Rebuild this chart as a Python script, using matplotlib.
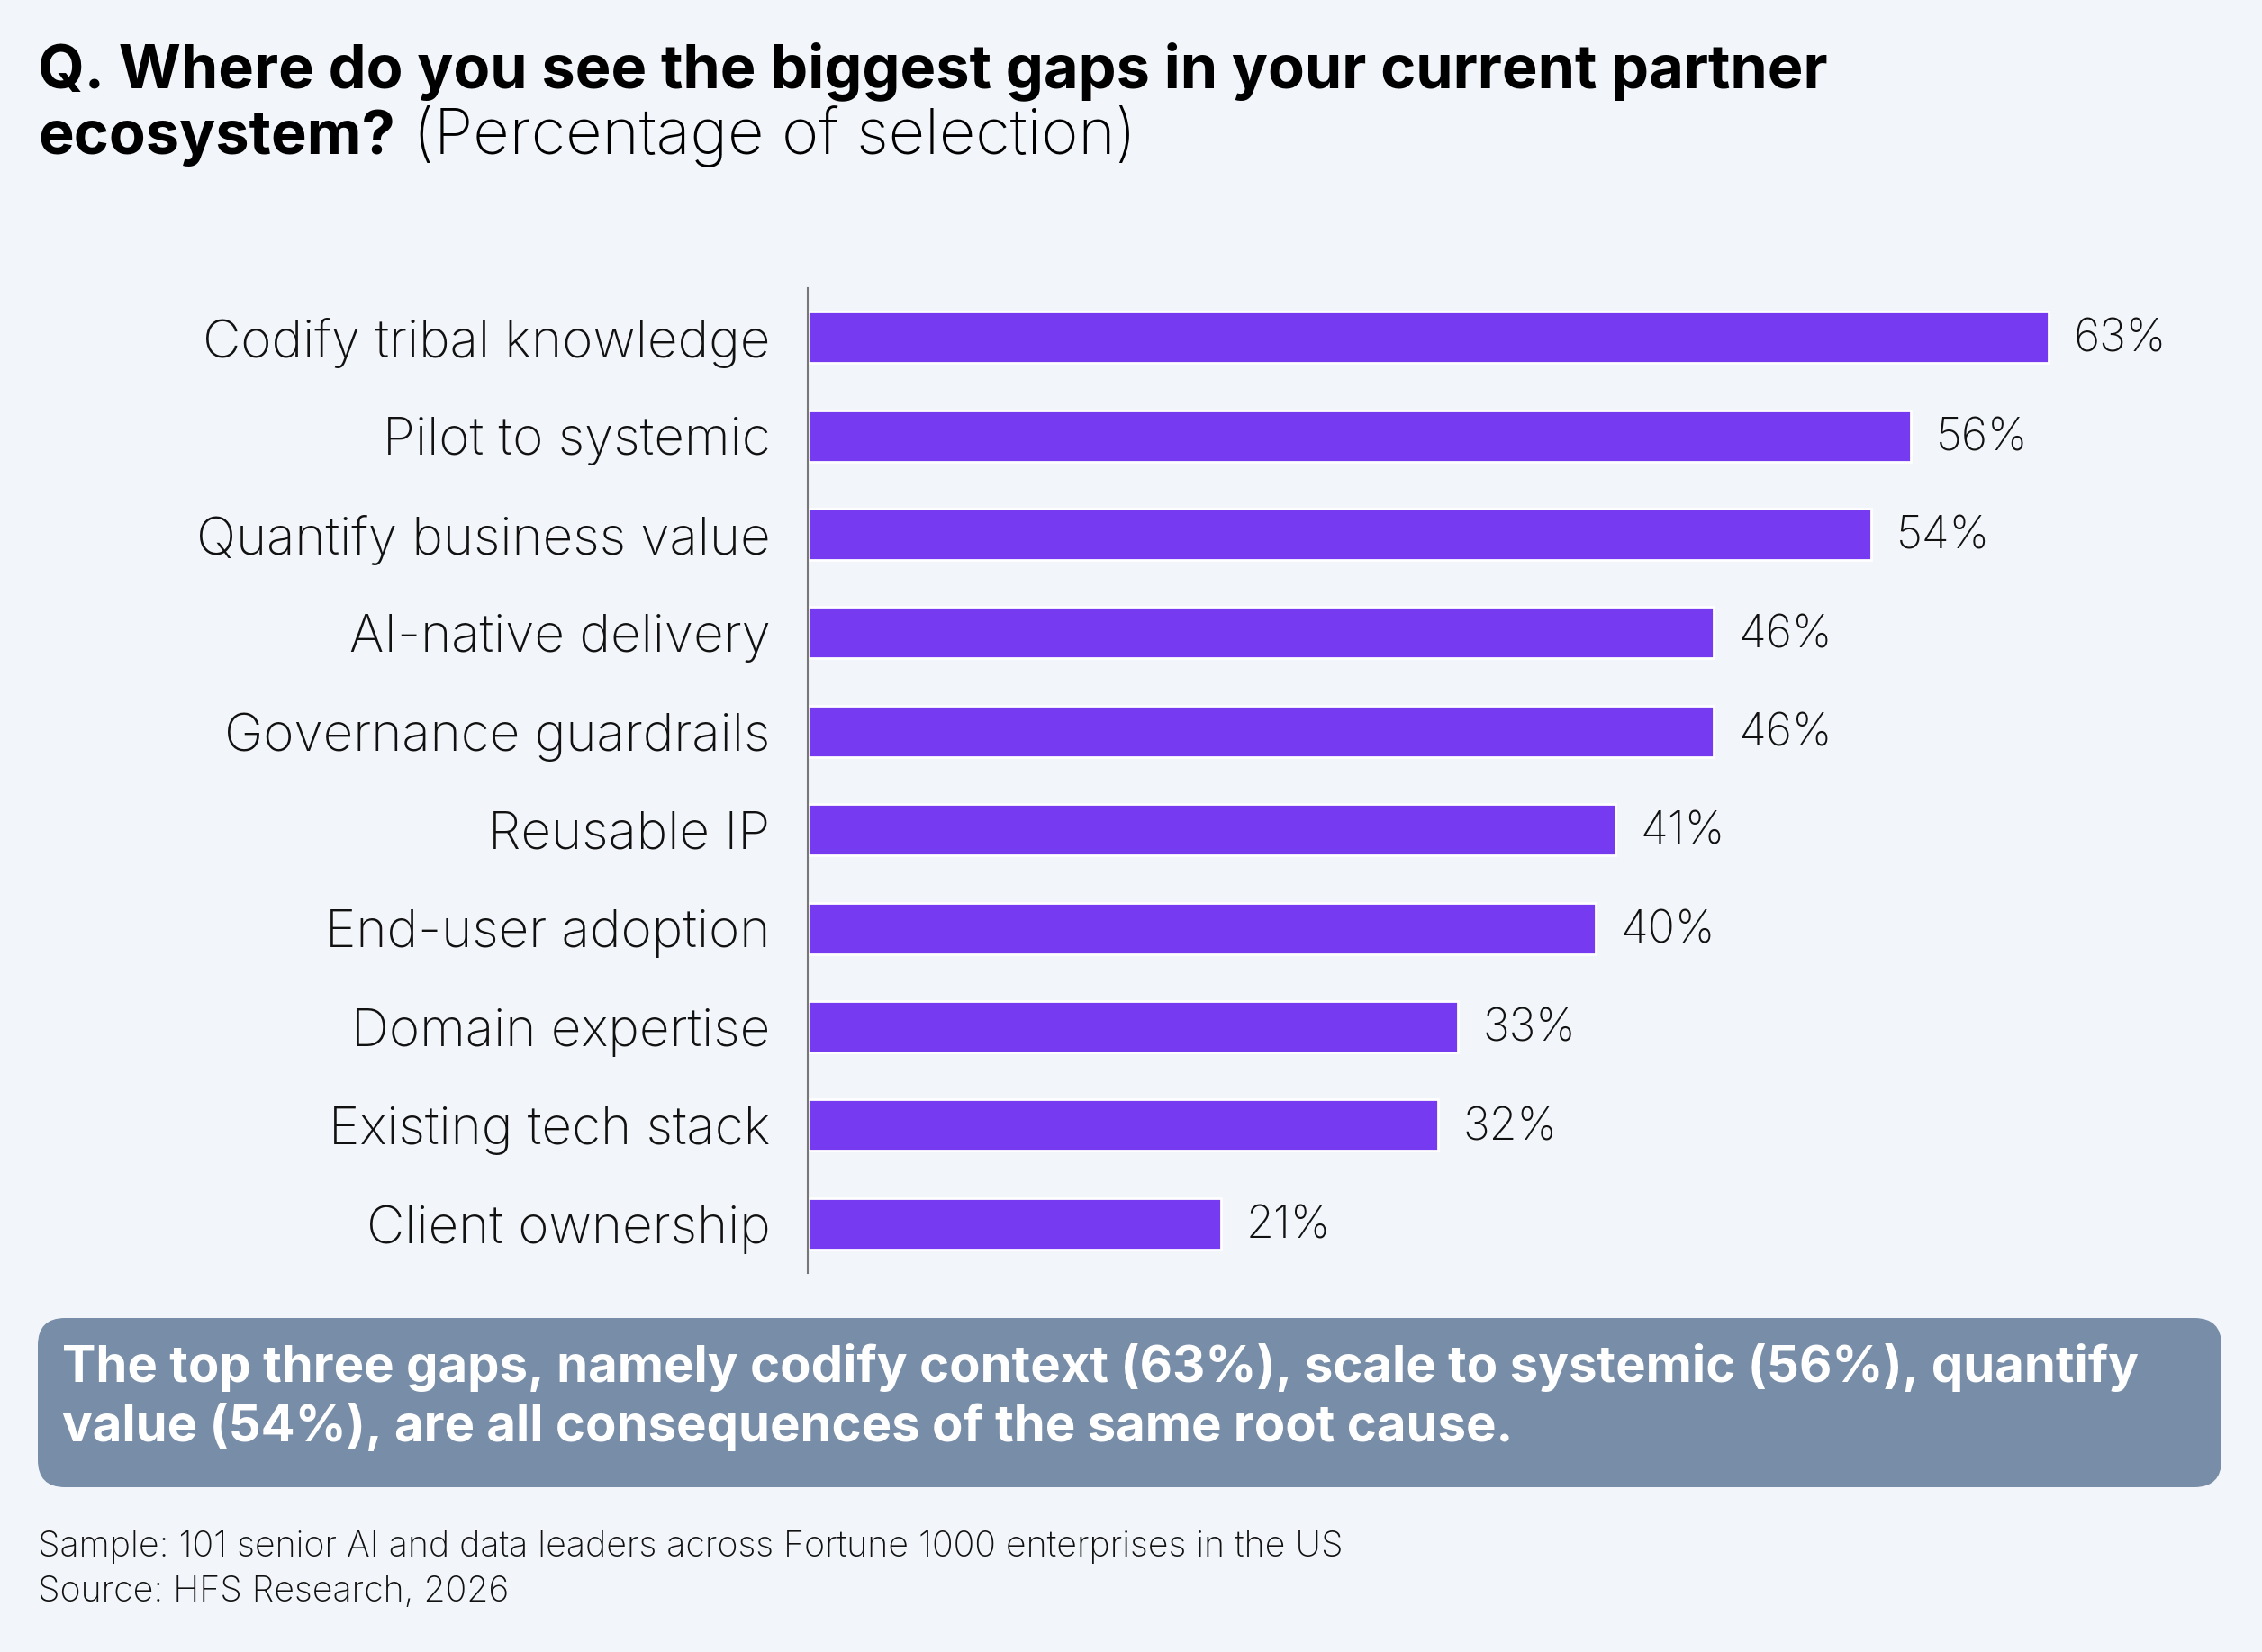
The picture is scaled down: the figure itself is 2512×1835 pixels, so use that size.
import matplotlib
matplotlib.use("Agg")
import matplotlib.pyplot as plt
from matplotlib.patches import FancyBboxPatch

# ── Data ──────────────────────────────────────────────────────────────────────
categories = [
    "Codify tribal knowledge",
    "Pilot to systemic",
    "Quantify business value",
    "AI-native delivery",
    "Governance guardrails",
    "Reusable IP",
    "End-user adoption",
    "Domain expertise",
    "Existing tech stack",
    "Client ownership",
]
values = [63, 56, 54, 46, 46, 41, 40, 33, 32, 21]
value_labels = [f"{v}%" for v in values]

title_bold_1 = "Q. Where do you see the biggest gaps in your current partner"
title_bold_2 = "ecosystem?"
title_light = " (Percentage of selection)"
callout_lines = [
    "The top three gaps, namely codify context (63%), scale to systemic (56%), quantify",
    "value (54%), are all consequences of the same root cause.",
]
footer_lines = [
    "Sample: 101 senior AI and data leaders across Fortune 1000 enterprises in the US",
    "Source: HFS Research, 2026",
]

# ── Style ─────────────────────────────────────────────────────────────────────
BG = "#F2F5F9"
BAR = "#763AF0"
BOX = "#788DA8"
plt.rcParams["font.family"] = ["Inter", "DejaVu Sans"]

W, H = 2512, 1835
fig = plt.figure(figsize=(W / 100, H / 100), dpi=100, facecolor=BG)

ax = fig.add_axes([897 / W, 1 - 1414 / H, (2428 - 897) / W, (1414 - 320) / H])
ax.set_facecolor(BG)
ypos = list(range(len(categories)))
ax.barh(ypos, values, height=0.52, color=BAR, edgecolor="white", linewidth=2)
ax.set_xlim(0, 70)
ax.set_ylim(len(categories) - 0.5, -0.5)
ax.set_yticks(ypos)
ax.set_yticklabels(categories, fontsize=42, color="#111111", fontweight="light")
ax.tick_params(axis="y", length=0, pad=30)
ax.set_xticks([])
for s in ["top", "right", "bottom"]:
    ax.spines[s].set_visible(False)
ax.spines["left"].set_color("#777777")
ax.spines["left"].set_linewidth(1.5)

for y, v, lbl in zip(ypos, values, value_labels):
    ax.annotate(lbl, (v, y), textcoords="offset points", xytext=(20, -2),
                ha="left", va="center", fontsize=36, color="#111111",
                fontweight="light")

# ── Title ─────────────────────────────────────────────────────────────────────
fig.text(42 / W, 1 - 97 / H, title_bold_1, fontsize=48, fontweight="bold",
         ha="left", va="baseline", color="#000000")
t2 = fig.text(42 / W, 1 - 171 / H, title_bold_2, fontsize=48, fontweight="bold",
              ha="left", va="baseline", color="#000000")
fig.canvas.draw()
bb = t2.get_window_extent()
fig.text(bb.x1 / W, 1 - 171 / H, title_light, fontsize=50.5, fontweight="light",
         ha="left", va="baseline", color="#000000")

# ── Callout box ───────────────────────────────────────────────────────────────
box = FancyBboxPatch((42 / W, 1 - 1652 / H), (2467 - 42) / W, (1652 - 1464) / H,
                     boxstyle="round,pad=0,rounding_size=0.012",
                     transform=fig.transFigure, facecolor=BOX, edgecolor="none",
                     mutation_aspect=W / H)
fig.patches.append(box)
fig.text(69 / W, 1 - 1535 / H, callout_lines[0], fontsize=40.5, fontweight="bold",
         color="white", ha="left", va="baseline")
fig.text(69 / W, 1 - 1601 / H, callout_lines[1], fontsize=40.5, fontweight="bold",
         color="white", ha="left", va="baseline")

# ── Footer ────────────────────────────────────────────────────────────────────
fig.text(42 / W, 1 - 1729 / H, footer_lines[0], fontsize=28.3, color="#111111",
         ha="left", va="baseline", fontweight="light")
fig.text(42 / W, 1 - 1779 / H, footer_lines[1], fontsize=28.3, color="#111111",
         ha="left", va="baseline", fontweight="light")

fig.savefig("out.png", dpi=100, facecolor=BG)
